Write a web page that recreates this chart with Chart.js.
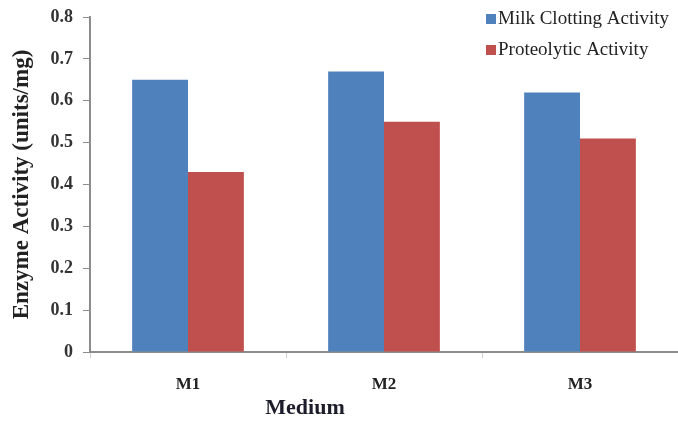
<!DOCTYPE html>
<html>
<head>
<meta charset="utf-8">
<script src="https://cdn.jsdelivr.net/npm/chart.js@4.4.1/dist/chart.umd.min.js"></script>
<style>
  html, body { margin: 0; padding: 0; background: #ffffff; }
  #wrap { position: relative; width: 678px; height: 421px; }
</style>
</head>
<body>
<div id="wrap"><canvas id="chart" width="678" height="421"></canvas></div>
<script>
// Enzyme activity per production medium
const categories = ['M1', 'M2', 'M3'];
const milkClotting = [0.65, 0.67, 0.62];
const proteolytic = [0.43, 0.55, 0.51];
const yTicks = [0, 0.1, 0.2, 0.3, 0.4, 0.5, 0.6, 0.7, 0.8];
const seriesNames = ['Milk Clotting Activity', 'Proteolytic Activity'];
const seriesColors = ['#4F81BD', '#C0504D'];
const xTitle = 'Medium';
const yTitle = 'Enzyme Activity (units/mg)';

const serif = "'Liberation Serif', 'Times New Roman', serif";
const axisGray = '#8c8c8c';

// Stacked legend in the top-right corner plus the axis title under the categories
const extras = {
  id: 'extras',
  afterDraw(chart) {
    const ctx = chart.ctx;
    ctx.save();
    ctx.textBaseline = 'middle';
    ctx.textAlign = 'left';
    ctx.font = "19px " + serif;
    chart.data.datasets.forEach((ds, i) => {
      const y = 19 + i * 31;
      ctx.fillStyle = ds.backgroundColor;
      ctx.fillRect(486, y - 5, 10, 10);
      ctx.fillStyle = '#222';
      ctx.fillText(ds.label, 498, y);
    });
    ctx.font = "bold 22px " + serif;
    ctx.textAlign = 'center';
    ctx.fillStyle = '#1c1c2a';
    ctx.fillText(xTitle, 305, 408);
    ctx.restore();
  }
};

new Chart(document.getElementById('chart'), {
  type: 'bar',
  data: {
    labels: categories,
    datasets: [
      { label: seriesNames[0], data: milkClotting, backgroundColor: seriesColors[0] },
      { label: seriesNames[1], data: proteolytic, backgroundColor: seriesColors[1] }
    ]
  },
  options: {
    responsive: false,
    animation: false,
    devicePixelRatio: 1,
    layout: { padding: { top: 17, right: 0, left: 0, bottom: 0 } },
    datasets: { bar: { barPercentage: 1, categoryPercentage: 0.57 } },
    plugins: { legend: { display: false }, tooltip: { enabled: false } },
    scales: {
      x: {
        grid: { display: true, drawOnChartArea: false, offset: true, tickLength: 6, color: '#cfcfcf', lineWidth: 1 },
        border: { display: true, color: axisGray, width: 2 },
        ticks: { padding: 16, color: '#222', font: { family: serif, size: 17, weight: 'bold' } },
        afterFit(scale) { scale.height = 69; }
      },
      y: {
        min: 0, max: 0.8,
        afterBuildTicks(scale) { scale.ticks = yTicks.map(v => ({ value: v })); },
        grid: { display: true, drawOnChartArea: false, tickLength: 7, color: axisGray, lineWidth: 1 },
        border: { display: true, color: axisGray, width: 2 },
        ticks: { padding: 10, color: '#333', font: { family: serif, size: 18, weight: 'bold' },
                 callback: v => v === 0 ? '0' : v.toFixed(1) },
        title: { display: true, text: yTitle, color: '#222', padding: { top: 8, bottom: 0 },
                 font: { family: serif, size: 23, weight: 'bold' } },
        afterFit(scale) { scale.width = 90; scale.paddingTop = 0; scale.paddingBottom = 0; }
      }
    }
  },
  plugins: [extras]
});
</script>
</body>
</html>
